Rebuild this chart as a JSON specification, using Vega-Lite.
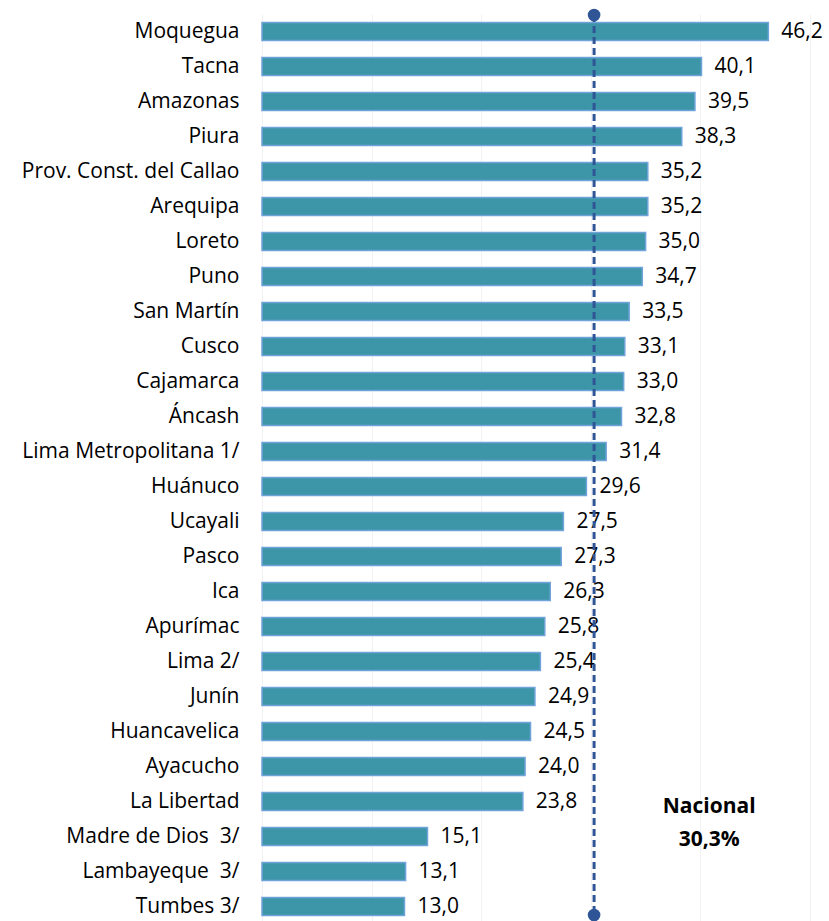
{
  "$schema": "https://vega.github.io/schema/vega-lite/v6.json",
  "width": 548,
  "height": 910,
  "autosize": {"type": "none"},
  "padding": {"left": 262, "top": 14, "right": 19, "bottom": 0},
  "background": "white",
  "config": {
    "view": {"stroke": null},
    "font": "Open Sans",
    "locale": {"number": {"decimal": ",", "thousands": ".", "grouping": [3], "currency": ["", ""]}}
  },
  "data": {
    "values": [
      {"region": "Moquegua", "value": 46.2},
      {"region": "Tacna", "value": 40.1},
      {"region": "Amazonas", "value": 39.5},
      {"region": "Piura", "value": 38.3},
      {"region": "Prov. Const. del Callao\u00a0", "value": 35.2},
      {"region": "Arequipa", "value": 35.2},
      {"region": "Loreto", "value": 35.0},
      {"region": "Puno\u00a0", "value": 34.7},
      {"region": "San Martín", "value": 33.5},
      {"region": "Cusco", "value": 33.1},
      {"region": "Cajamarca", "value": 33.0},
      {"region": "Áncash", "value": 32.8},
      {"region": "Lima Metropolitana 1/", "value": 31.4},
      {"region": "Huánuco", "value": 29.6},
      {"region": "Ucayali\u00a0", "value": 27.5},
      {"region": "Pasco", "value": 27.3},
      {"region": "Ica", "value": 26.3},
      {"region": "Apurímac\u00a0", "value": 25.8},
      {"region": "Lima 2/", "value": 25.4},
      {"region": "Junín", "value": 24.9},
      {"region": "Huancavelica\u00a0", "value": 24.5},
      {"region": "Ayacucho\u00a0", "value": 24.0},
      {"region": "La Libertad", "value": 23.8},
      {"region": "Madre de Dios\u00a0 3/", "value": 15.1},
      {"region": "Lambayeque\u00a0 3/", "value": 13.1},
      {"region": "Tumbes 3/", "value": 13.0}
    ]
  },
  "encoding": {
    "y": {
      "field": "region",
      "type": "nominal",
      "sort": null,
      "scale": {"paddingInner": 0.49, "paddingOuter": 0.245},
      "axis": {
        "title": null,
        "ticks": false,
        "domain": false,
        "labelFontSize": 21,
        "labelColor": "#000000",
        "labelPadding": 23,
        "labelLimit": 300
      }
    }
  },
  "layer": [
    {
      "mark": {"type": "bar", "color": "#3C96A8", "stroke": "#6FA3DA", "strokeWidth": 1.5},
      "encoding": {
        "x": {
          "field": "value",
          "type": "quantitative",
          "scale": {"domain": [0, 50], "nice": false},
          "axis": {
            "title": null,
            "labels": false,
            "ticks": false,
            "domain": false,
            "grid": true,
            "gridColor": "#f2f2f2",
            "values": [0, 10, 20, 30, 40, 50]
          }
        }
      }
    },
    {
      "mark": {"type": "text", "align": "left", "baseline": "middle", "dx": 13, "fontSize": 21, "fill": "#000000"},
      "encoding": {
        "x": {"field": "value", "type": "quantitative"},
        "text": {"field": "value", "type": "quantitative", "format": ".1f"}
      }
    },
    {
      "data": {"values": [{"label": "Nacional"}]},
      "mark": {"type": "rule", "color": "#2F5597", "strokeWidth": 3, "strokeDash": [7, 4], "yOffset": -16.5, "y2Offset": 8.5},
      "encoding": {
        "x": {"datum": 30.3, "type": "quantitative"},
        "y": {"datum": "Moquegua"},
        "y2": {"datum": "Tumbes 3/"}
      }
    },
    {
      "data": {"values": [{"label": "Nacional"}]},
      "mark": {"type": "point", "filled": true, "color": "#2F5597", "opacity": 1, "size": 160, "yOffset": -16.5},
      "encoding": {
        "x": {"datum": 30.3, "type": "quantitative"},
        "y": {"datum": "Moquegua"}
      }
    },
    {
      "data": {"values": [{"label": "Nacional"}]},
      "mark": {"type": "point", "filled": true, "color": "#2F5597", "opacity": 1, "size": 160, "yOffset": 8.5},
      "encoding": {
        "x": {"datum": 30.3, "type": "quantitative"},
        "y": {"datum": "Tumbes 3/"}
      }
    },
    {
      "data": {"values": [{"label": "Nacional"}]},
      "mark": {"type": "text", "text": ["Nacional", "30,3%"], "align": "center", "baseline": "middle", "fontSize": 21, "fontWeight": "bold", "lineHeight": 33, "fill": "#000000", "yOffset": 5},
      "encoding": {
        "x": {"datum": 40.8, "type": "quantitative"},
        "y": {"datum": "La Libertad"}
      }
    }
  ]
}
